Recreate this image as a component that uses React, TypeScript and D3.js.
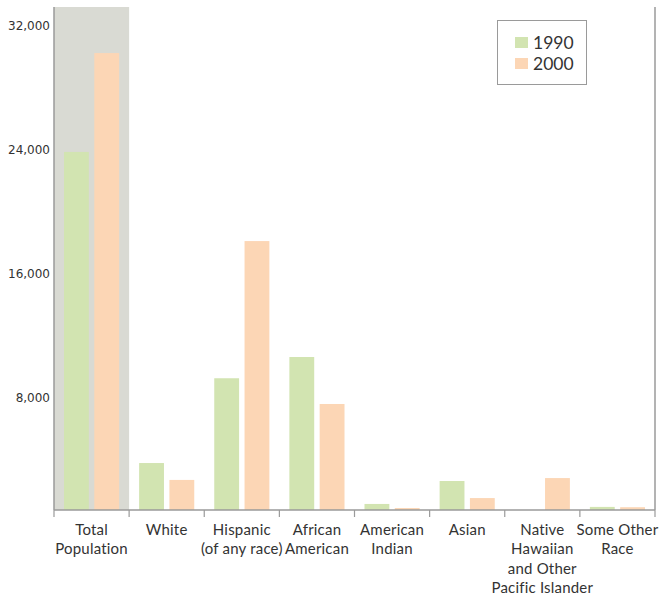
import React from "react";
import * as d3 from "d3";

const categories = [
  "Total\nPopulation",
  "White",
  "Hispanic\n(of any race)",
  "African\nAmerican",
  "American\nIndian",
  "Asian",
  "Native\nHawaiian\nand Other\nPacific Islander",
  "Some Other\nRace",
];
const seriesNames = ["1990", "2000"];
const values1990 = [23100, 3030, 8500, 9870, 390, 1870, 0, 200];
const values2000 = [29480, 1940, 17350, 6840, 130, 770, 2060, 180];
const yTicks = [8000, 16000, 24000, 32000];
const colors = ["#d2e4b1", "#fcd6b5"];

export default function App() {
  const W = 660, H = 599;
  const left = 54, right = 655, top = 7, bottom = 510;
  const x = d3.scaleBand<string>().domain(categories).range([left, right]).padding(0);
  const inner = d3.scaleBand<string>().domain(seriesNames).range([0, x.bandwidth()]).paddingInner(0.18).paddingOuter(0.33);
  const y = d3.scaleLinear().domain([0, 32000]).range([bottom, 14]);
  const series = [values1990, values2000];
  const labelFont = "Lato, 'Open Sans', sans-serif";
  const boundaries = categories.map((c) => x(c)!).concat([right]);

  return (
    <svg width={W} height={H} style={{ position: "absolute", left: 0, top: 0, background: "#fff" }}>
      <rect x={x(categories[0])} y={top} width={x.bandwidth()} height={bottom - top} fill="#d9dad3" />
      {series.map((vals, si) =>
        categories.map((c, i) => {
          const v = vals[i];
          if (v <= 0) return null;
          return (
            <rect
              key={si + "-" + i}
              x={x(c)! + inner(seriesNames[si])!}
              y={y(v)}
              width={inner.bandwidth()}
              height={bottom - y(v)}
              fill={colors[si]}
            />
          );
        })
      )}
      <line x1={left} x2={left} y1={top} y2={bottom} stroke="#9a9a9a" strokeWidth={1.5} />
      <line x1={right} x2={right} y1={top} y2={bottom} stroke="#9a9a9a" strokeWidth={1.5} />
      <line x1={left} x2={right} y1={bottom} y2={bottom} stroke="#9a9a9a" strokeWidth={1.5} />
      {boundaries.map((bx, i) => (
        <line key={"t" + i} x1={bx} x2={bx} y1={bottom} y2={bottom + 7} stroke="#9a9a9a" strokeWidth={1.2} />
      ))}
      {yTicks.map((t) => (
        <text
          key={t}
          x={50}
          y={y(t) + 15.5}
          textAnchor="end"
          fontFamily="'DejaVu Sans', Verdana, sans-serif"
          fontSize={12}
          fill="#333"
        >
          {d3.format(",")(t)}
        </text>
      ))}
      {categories.map((c) => {
        const lines = c.split("\n");
        const cx = x(c)! + x.bandwidth() / 2;
        return (
          <text key={c} textAnchor="middle" fontFamily={labelFont} fontSize={15} letterSpacing={0.2} fill="#333">
            {lines.map((ln, li) => (
              <tspan key={li} x={cx} y={535 + li * 19.4}>
                {ln}
              </tspan>
            ))}
          </text>
        );
      })}
      <rect x={497.5} y={20.5} width={89} height={64} fill="#fff" stroke="#9a9a9a" strokeWidth={1} />
      {seriesNames.map((s, i) => (
        <g key={s}>
          <rect x={515} y={37 + i * 21} width={13} height={11} fill={colors[i]} />
          <text x={533} y={48.5 + i * 21} fontFamily={labelFont} fontSize={17.5} fill="#333">
            {s}
          </text>
        </g>
      ))}
    </svg>
  );
}
